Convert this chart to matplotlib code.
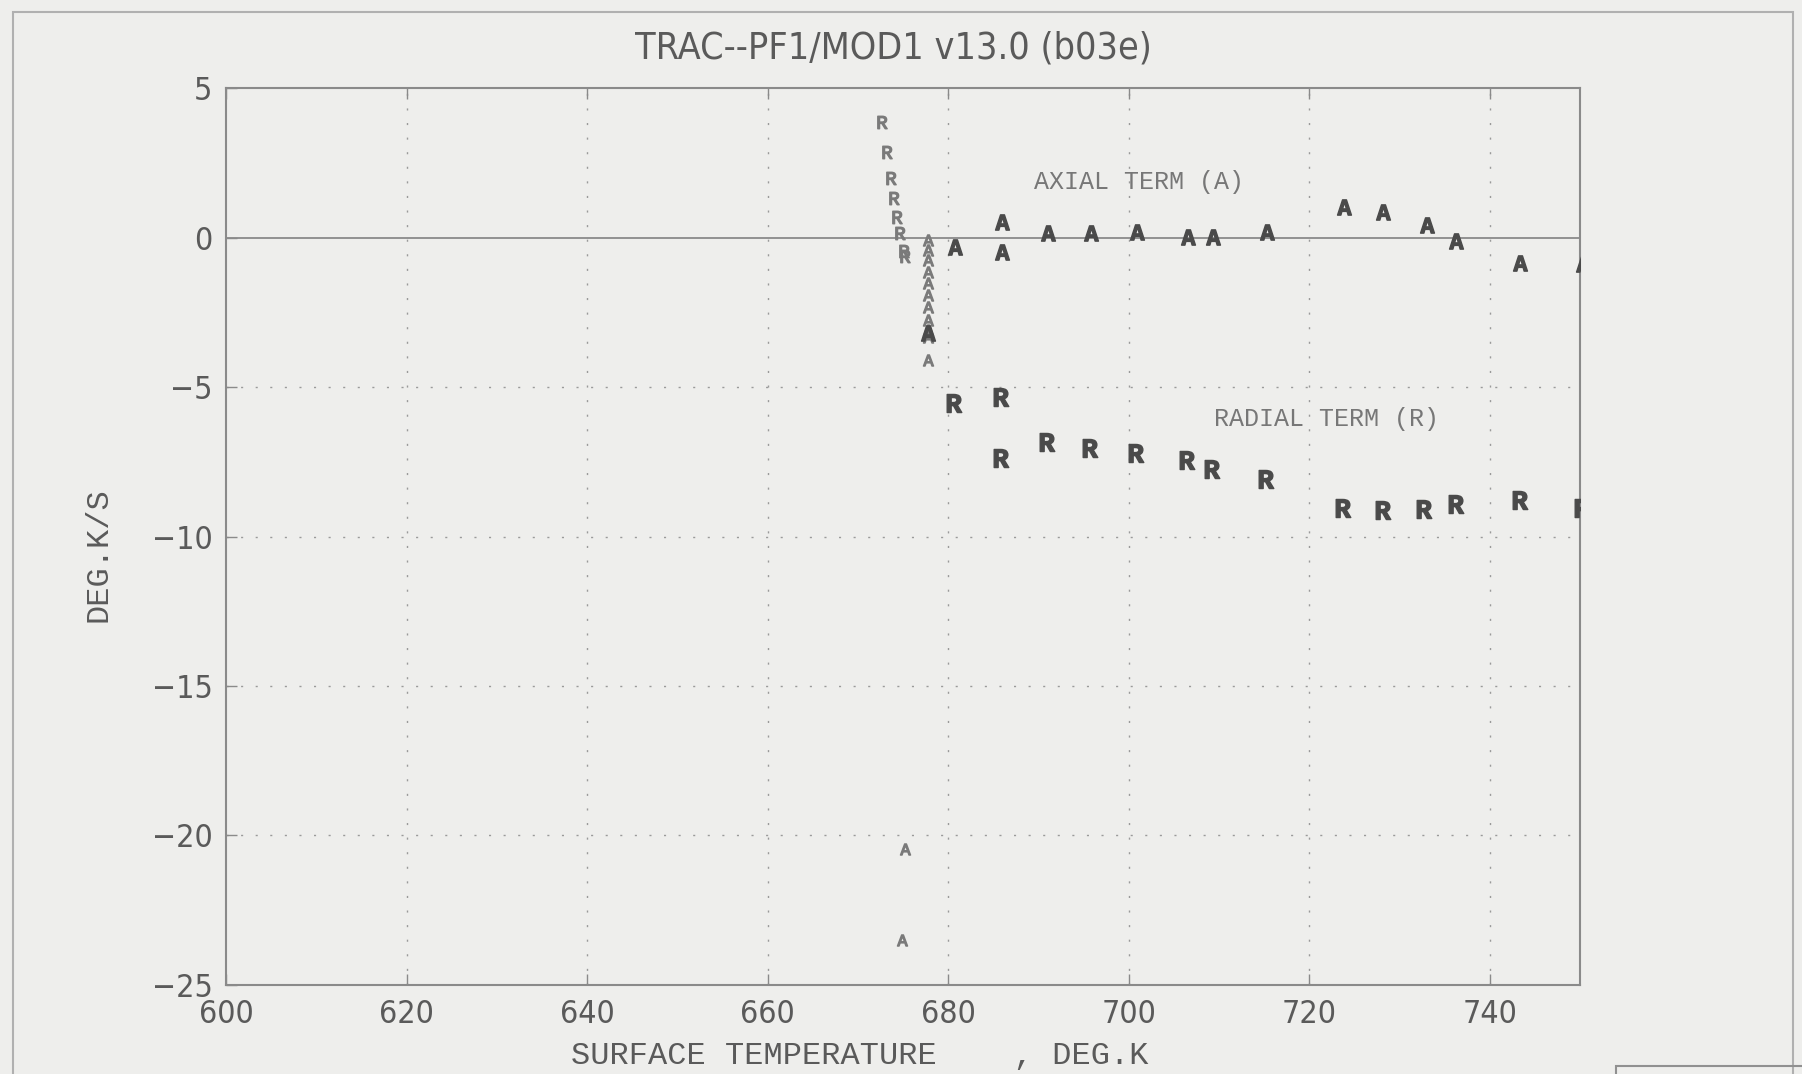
import matplotlib
matplotlib.use("Agg")
import matplotlib.pyplot as plt
from matplotlib.patches import Rectangle

# ---- data ----
x_ticks = [600, 620, 640, 660, 680, 700, 720, 740]
y_ticks = [5, 0, -5, -10, -15, -20, -25]

# axial term (A): early transient column (light symbols)
axial_early_temp = [677.8, 677.8, 677.8, 677.8, 677.8, 677.8, 677.8, 677.8, 677.8, 677.8, 677.8, 675.2, 674.9]
axial_early_rate = [-0.07, -0.40, -0.74, -1.13, -1.52, -1.91, -2.30, -2.75, -3.08, -3.31, -4.10, -20.47, -23.50]
# axial term (A): main sequence (dark, overprinted symbols)
axial_temp = [677.8, 680.7, 685.9, 685.9, 691.0, 695.8, 700.9, 706.6, 709.3, 715.3, 723.9, 728.2, 733.1, 736.3, 743.3, 750.3]
axial_rate = [-3.20, -0.30, 0.54, -0.46, 0.15, 0.15, 0.21, 0.02, 0.02, 0.21, 1.02, 0.88, 0.43, -0.09, -0.83, -0.87]

# radial term (R): early transient (light symbols)
radial_early_temp = [672.6, 673.2, 673.6, 674.0, 674.3, 674.7, 675.1, 675.2]
radial_early_rate = [3.89, 2.88, 1.99, 1.32, 0.71, 0.15, -0.45, -0.60]
# radial term (R): main sequence (dark, overprinted symbols)
radial_temp = [680.6, 685.8, 685.8, 690.9, 695.7, 700.8, 706.5, 709.2, 715.2, 723.7, 728.2, 732.7, 736.3, 743.3, 750.2]
radial_rate = [-5.52, -5.32, -7.38, -6.82, -7.05, -7.21, -7.44, -7.75, -8.08, -9.05, -9.11, -9.09, -8.91, -8.78, -9.05]

title = "TRAC--PF1/MOD1 v13.0 (b03e)"
x_label = "SURFACE TEMPERATURE    , DEG.K"
y_label = "DEG.K/S"

# ---- styling ----
plt.rcParams["mathtext.fontset"] = "custom"
plt.rcParams["mathtext.rm"] = "Liberation Mono"
plt.rcParams["mathtext.bf"] = "Liberation Mono:bold"

bg = "#eeeeec"
ink = "#5a5a5a"
grid_c = "#9a9a9a"
mono = "Liberation Mono"
narrow = ["DejaVu Sans"]

fig = plt.figure(figsize=(18.02, 10.74), dpi=100, facecolor=bg)
ax = fig.add_axes([0.1256, 0.0832, 0.7512, 0.8344])
ax.set_facecolor(bg)

ax.set_xlim(600, 750)
ax.set_ylim(-25, 5)

# grid
for xv in x_ticks[1:]:
    ax.axvline(xv, color=grid_c, lw=1.0, ls=(0, (1.5, 9)), zorder=1)
for yv in y_ticks[2:-1]:
    ax.axhline(yv, color=grid_c, lw=1.0, ls=(0, (1.5, 9)), zorder=1)
ax.axhline(0, color="#8a8a8a", lw=1.3, zorder=1)

# data symbols
ax.plot(axial_early_temp, axial_early_rate, ls="none", marker=r"$\mathrm{A}$",
        markersize=8, color="#7a7a7a", zorder=3)
ax.plot(radial_early_temp, radial_early_rate, ls="none", marker=r"$\mathrm{R}$",
        markersize=9, color="#7a7a7a", zorder=3)
ax.plot(axial_temp, axial_rate, ls="none", marker=r"$\mathbf{A}$",
        markersize=11, color="#4a4a4a", zorder=4)
ax.plot(radial_temp, radial_rate, ls="none", marker=r"$\mathbf{R}$",
        markersize=13, color="#4a4a4a", zorder=4)

# annotations
ax.text(701.1, 1.87, "AXIAL TERM (A)", family=mono, fontsize=18, color="#777777",
        ha="center", va="center")
ax.text(721.9, -6.08, "RADIAL TERM (R)", family=mono, fontsize=18, color="#777777",
        ha="center", va="center")

# axes styling
for s in ax.spines.values():
    s.set_color("#8a8a8a")
    s.set_linewidth(1.5)
ax.set_xticks(x_ticks)
ax.set_yticks(y_ticks)
ax.tick_params(direction="in", length=8, width=1, color="#8a8a8a",
               top=True, right=False, labelsize=23, labelcolor=ink, pad=10)
for lab in ax.get_xticklabels() + ax.get_yticklabels():
    lab.set_family(narrow)
    lab.set_stretch("condensed")

ax.set_xlabel(x_label, family=mono, fontsize=23, color=ink, labelpad=8)
ax.xaxis.set_label_coords(0.468, -0.063)
ax.set_ylabel(y_label, family=mono, fontsize=23, color=ink)
ax.yaxis.set_label_coords(-0.083, 0.48)

fig.text(0.496, 0.955, title, family=narrow, fontstretch="condensed",
         fontsize=27, color=ink, ha="center", va="center")

# page border of the scanned sheet
fig.patches.append(Rectangle((0.007, -0.01), 0.988, 0.999, transform=fig.transFigure,
                             fill=False, edgecolor="#b0b0b0", lw=1.5))
fig.patches.append(Rectangle((0.897, -0.01), 0.11, 0.017, transform=fig.transFigure,
                             fill=False, edgecolor="#909090", lw=1.5))

fig.savefig("out.png", dpi=100, facecolor=bg)
